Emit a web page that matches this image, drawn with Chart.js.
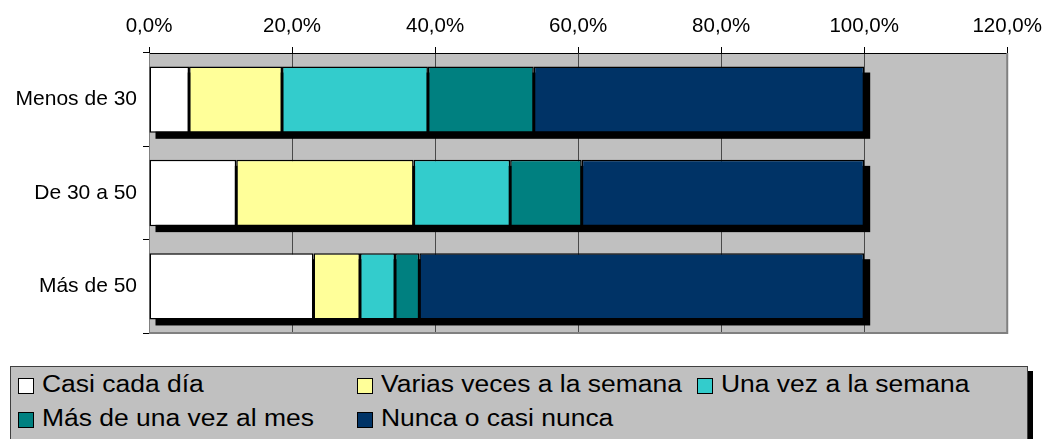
<!DOCTYPE html>
<html>
<head>
<meta charset="utf-8">
<script src="https://cdn.jsdelivr.net/npm/chart.js@4/dist/chart.umd.min.js"></script>
<style>
    body { margin: 0; background: #fff; width: 1050px; height: 439px; overflow: hidden; position: relative; }
    #chart-wrap { position: absolute; left: 0; top: 0; width: 1050px; height: 360px; }
    #legend {
        position: absolute; left: 10px; top: 366px; width: 1016px; height: 90px;
        background: #c0c0c0; border: 1px solid #404040; box-shadow: 5px 5px 0 #000;
    }
    .legend-item { position: absolute; height: 34px; white-space: nowrap; }
    .legend-box {
        position: absolute; left: 0; top: 0; width: 14px; height: 14px;
        border: 1.5px solid #000;
    }
    .legend-text {
        position: absolute; left: 24px; top: -7px;
        font-family: Arial, "Liberation Sans", sans-serif; font-size: 23px;
        transform: scaleX(1.15); transform-origin: left center; color: #000;
    }
</style>
</head>
<body>
<div id="chart-wrap"><canvas id="chart" width="1050" height="360"></canvas></div>
<div id="legend"></div>
<script>
// ===== Data =====
const categories = ['Menos de 30', 'De 30 a 50', 'Más de 50'];
const seriesLabels = ['Casi cada día', 'Varias veces a la semana', 'Una vez a la semana', 'Más de una vez al mes', 'Nunca o casi nunca'];
const casiCadaDia = [5.6, 12.2, 23.0];
const variasVeces = [13.0, 24.8, 6.5];
const unaVezSemana = [20.4, 13.5, 4.9];
const masDeUnaVezMes = [14.8, 10.0, 3.4];
const nuncaCasiNunca = [46.2, 39.5, 62.2];
const xTicks = [0, 20, 40, 60, 80, 100, 120];

const seriesColors = ['#ffffff', '#ffff99', '#33cccc', '#008080', '#003366'];
const seriesValues = [casiCadaDia, variasVeces, unaVezSemana, masDeUnaVezMes, nuncaCasiNunca];

const FONT = 'Arial, "Liberation Sans", sans-serif';

// Plot background, border and bar drop shadows
const plotDecor = {
    id: 'plotDecor',
    beforeDraw(chart) {
        const { ctx, chartArea: a } = chart;
        ctx.save();
        ctx.fillStyle = '#c0c0c0';
        ctx.fillRect(a.left, a.top, a.right - a.left, a.bottom - a.top);
        ctx.restore();
    },
    beforeDatasetsDraw(chart) {
        const { ctx, chartArea: a } = chart;
        ctx.save();
        ctx.strokeStyle = '#808080';
        ctx.lineWidth = 2;
        ctx.beginPath();
        ctx.moveTo(a.right, a.top);
        ctx.lineTo(a.right, a.bottom);
        ctx.lineTo(a.left, a.bottom);
        ctx.stroke();

        // black drop shadow behind each stacked bar
        const first = chart.getDatasetMeta(0);
        const last = chart.getDatasetMeta(chart.data.datasets.length - 1);
        ctx.fillStyle = '#000';
        first.data.forEach((bar, i) => {
            const p = bar.getProps(['y', 'base', 'height'], true);
            const end = last.data[i].getProps(['x'], true);
            ctx.fillRect(p.base + 6, p.y - p.height / 2 + 6, end.x - p.base, p.height);
        });
        ctx.restore();
    }
};

const ctx = document.getElementById('chart').getContext('2d');
const chart = new Chart(ctx, {
    type: 'bar',
    data: {
        labels: categories,
        datasets: seriesLabels.map((label, i) => ({
            label: label,
            data: seriesValues[i],
            backgroundColor: seriesColors[i],
            borderColor: '#000',
            borderWidth: 1.5,
            borderSkipped: false,
            barPercentage: 0.71,
            categoryPercentage: 1
        }))
    },
    options: {
        indexAxis: 'y',
        responsive: false,
        animation: false,
        layout: { padding: { left: 0, right: 32, top: 0, bottom: 27 } },
        scales: {
            x: {
                position: 'top',
                stacked: true,
                min: 0,
                max: 120,
                afterBuildTicks: scale => { scale.ticks = xTicks.map(v => ({ value: v })); },
                afterFit: scale => { scale.height = 53; },
                ticks: {
                    color: '#000',
                    padding: 8,
                    font: { family: FONT, size: 20.5 },
                    callback: v => v.toFixed(1).replace('.', ',') + '%'
                },
                grid: { color: '#4a4a4a', tickColor: '#000', tickLength: 6, lineWidth: 1 },
                border: { color: '#000', width: 1 }
            },
            y: {
                stacked: true,
                afterFit: scale => { scale.width = 149; },
                ticks: {
                    color: '#000',
                    padding: 6,
                    font: { family: FONT, size: 21 }
                },
                grid: { offset: true, drawOnChartArea: false, tickLength: 6, color: '#000' },
                border: { color: '#808080', width: 1 }
            }
        },
        plugins: {
            legend: { display: false },
            tooltip: { enabled: false }
        }
    },
    plugins: [plotDecor]
});

// HTML legend in three columns like the original
const legendColX = [7, 346, 686];
const legend = document.getElementById('legend');
chart.data.datasets.forEach((ds, i) => {
    const item = document.createElement('div');
    item.className = 'legend-item';
    item.style.left = legendColX[i % 3] + 'px';
    item.style.top = (11 + Math.floor(i / 3) * 34) + 'px';
    item.innerHTML = '<span class="legend-box" style="background:' + ds.backgroundColor + '"></span>' +
        '<span class="legend-text">' + ds.label + '</span>';
    legend.appendChild(item);
});
</script>
</body>
</html>
